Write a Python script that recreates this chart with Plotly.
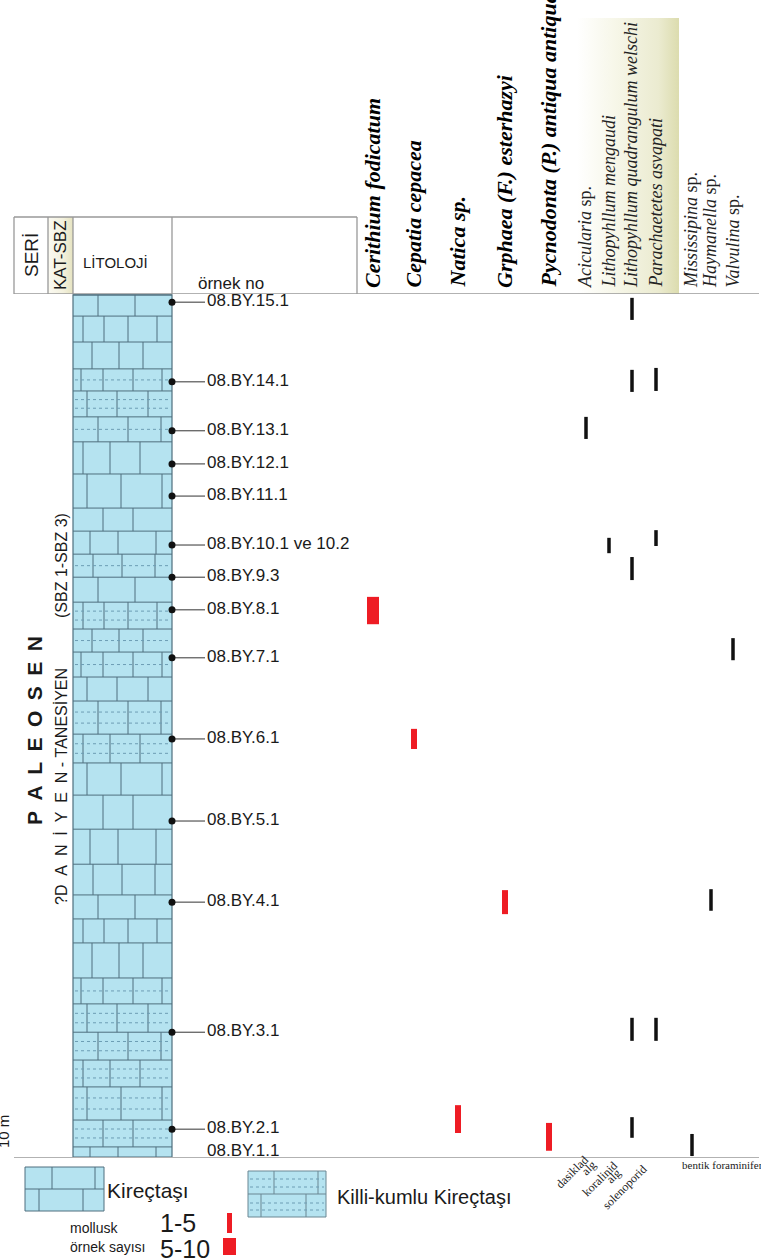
import plotly.graph_objects as go

W, H = 761, 1258

# ---------------- data ----------------
SAMPLES = ["08.BY.15.1", "08.BY.14.1", "08.BY.13.1", "08.BY.12.1", "08.BY.11.1",
           "08.BY.10.1 ve 10.2", "08.BY.9.3", "08.BY.8.1", "08.BY.7.1", "08.BY.6.1",
           "08.BY.5.1", "08.BY.4.1", "08.BY.3.1", "08.BY.2.1", "08.BY.1.1"]
SAMPLE_M = [178.1, 161.5, 151.3, 144.4, 137.7, 127.5, 120.8, 114.0, 104.0, 87.1,
            70.0, 53.1, 26.0, 5.8, 1.0]
SAMPLE_DOT = [True] * 14 + [False]

SPECIES = ["Cerithium fodicatum", "Cepatia cepacea", "Natica sp.",
           "Grphaea (F.) esterhazyi", "Pycnodonta (P.) antiqua antiqua",
           "Acicularia sp.", "Lithopyhllum mengaudi",
           "Lithopyhllum quadrangulum welschi", "Parachaetetes asvapati",
           "Mississipina sp.", "Haymanella sp.", "Valvulina sp."]
SPECIES_KIND = ["mollusk"] * 5 + ["alg"] * 4 + ["foram"] * 3

OCC_SPECIES = ["Cerithium fodicatum", "Cepatia cepacea", "Natica sp.",
               "Grphaea (F.) esterhazyi", "Pycnodonta (P.) antiqua antiqua",
               "Acicularia sp.", "Lithopyhllum mengaudi",
               "Lithopyhllum quadrangulum welschi", "Lithopyhllum quadrangulum welschi",
               "Lithopyhllum quadrangulum welschi", "Lithopyhllum quadrangulum welschi",
               "Lithopyhllum quadrangulum welschi",
               "Parachaetetes asvapati", "Parachaetetes asvapati", "Parachaetetes asvapati",
               "Mississipina sp.", "Haymanella sp.", "Valvulina sp."]
OCC_BASE_M = [111.0, 85.0, 5.0, 50.6, 1.3, 149.6, 125.8, 174.4, 159.4, 120.2, 24.2, 4.0,
              159.6, 127.3, 24.2, 0.2, 51.3, 103.5]
OCC_TOP_M = [116.7, 89.2, 10.8, 55.6, 7.1, 154.2, 129.0, 179.0, 164.0, 125.0, 29.0, 8.3,
             164.4, 130.6, 29.0, 4.8, 55.8, 108.1]
OCC_COUNT = ["5-10", "1-5", "1-5", "1-5", "1-5"] + ["var"] * 13

BED_BOUNDS_M = [179.6, 175.2, 169.8, 164.2, 159.6, 154.2, 149.0, 142.3, 135.2, 130.4,
                125.6, 120.8, 115.6, 110.0, 105.2, 100.0, 95.0, 88.1, 82.1, 75.4,
                68.3, 61.0, 54.6, 49.6, 44.6, 37.3, 31.9, 26.0, 20.2, 14.6, 7.7, 2.1, 0.0]
BED_TYPES = ("K K K KK KK KK K K K K KK K KK KK KK K KK KK K K K K K K K "
             "KK KK KK KK KK KK K").split()

SECTION_TOP_M = 179.8

# ---------------- layout constants (pixels) ----------------
COL_X = [373, 414, 458, 505, 549, 586, 609, 632, 656, 692, 711, 733]
LITHO_X0, LITHO_X1 = 73, 172
TOP_Y, BOT_Y = 294, 1157
JOINTS = [[98, 135], [83, 104, 128, 157], [92, 119, 143], [81, 103, 133, 162],
          [87, 117, 148], [98, 128, 161], [83, 110, 140], [87, 121, 162],
          [103, 133], [90, 118, 156], [93, 122, 155]]

BLUE = "#b5e3f0"
LITHO_LINE = "#4f6f7e"
RED = "#ee1c24"
FRAME = "#999999"

fig = go.Figure()


def px_line(xs, ys, color, width=1, dash=None, yaxis="y"):
    fig.add_trace(go.Scatter(x=xs, y=ys, mode="lines", yaxis=yaxis, xaxis="x",
                             line=dict(color=color, width=width, dash=dash),
                             hoverinfo="skip", cliponaxis=False))


def px_rect(x0, y0, x1, y1, fill=None, line=None, width=1, grad=None, yaxis="y"):
    kw = {}
    if grad is not None:
        kw["fillgradient"] = dict(type="horizontal", colorscale=grad)
    elif fill is not None:
        kw["fillcolor"] = fill
    fig.add_trace(go.Scatter(x=[x0, x1, x1, x0, x0], y=[y0, y0, y1, y1, y0],
                             mode="lines", fill="toself", yaxis=yaxis, xaxis="x",
                             line=dict(color=line or "rgba(0,0,0,0)", width=width if line else 0),
                             hoverinfo="skip", cliponaxis=False, **kw))


# yellow algae band (gradient)
px_rect(577, 18, 679, BOT_Y,
        grad=[[0, "rgba(255,255,255,1)"], [0.35, "#f7f7ea"], [0.8, "#ebebd0"], [1, "#dcdcae"]])
# KAT-SBZ cream column
px_rect(48, 217, 73, BOT_Y,
        grad=[[0, "#fbfaf2"], [0.6, "#f3f1de"], [1, "#e6e3c0"]])

# dotted species grid lines
gx, gy = [], []
for cx in COL_X:
    gx += [cx, cx, None]
    gy += [TOP_Y, BOT_Y, None]
px_line(gx, gy, "#cccccc", 1, "dot")

# ---------------- lithology column ----------------
px_rect(LITHO_X0, 0, LITHO_X1, BED_BOUNDS_M[0], fill=BLUE, yaxis="y2")
hx, hy, vx, vy, dx, dy = [], [], [], [], [], []
for i, t in enumerate(BED_TYPES):
    top, bot = BED_BOUNDS_M[i], BED_BOUNDS_M[i + 1]
    hx += [LITHO_X0, LITHO_X1, None]
    hy += [top, top, None]
    for jx in JOINTS[i % len(JOINTS)]:
        vx += [jx, jx, None]
        vy += [bot, top, None]
    if t == "KK":
        th = top - bot
        fracs = [1 / 3, 2 / 3] if th >= 5.4 else [0.5]
        for f in fracs:
            yy = bot + th * f
            dx += [LITHO_X0 + 2, LITHO_X1 - 2, None]
            dy += [yy, yy, None]
px_line(vx, vy, LITHO_LINE, 1, yaxis="y2")
px_line(dx, dy, "#6d9db4", 1, "dot", yaxis="y2")
px_line(hx, hy, LITHO_LINE, 1, yaxis="y2")
px_line([LITHO_X0, LITHO_X1, LITHO_X1, LITHO_X0, LITHO_X0],
        [0, 0, BED_BOUNDS_M[0], BED_BOUNDS_M[0], 0], LITHO_LINE, 1.2, yaxis="y2")

# ---------------- frames ----------------
fx = [14, 357, None, 14, 759, None, 14, 759, None,
      14, 14, None, 48, 48, None, 73, 73, None, 172, 172, None, 357, 357, None, 759, 759, None]
fy = [217, 217, None, TOP_Y, TOP_Y, None, BOT_Y, BOT_Y, None,
      217, BOT_Y, None, 217, BOT_Y, None, 217, TOP_Y, None, 217, TOP_Y, None, 217, BOT_Y, None,
      TOP_Y, BOT_Y, None]
px_line(fx, fy, FRAME, 1.3)

# scale bar 10 m
px_line([10, 10], [1109, 1157], "#222222", 1.3)

# ---------------- samples ----------------
lx, ly = [], []
for m, d in zip(SAMPLE_M, SAMPLE_DOT):
    if d:
        lx += [LITHO_X1, 205, None]
        ly += [m, m, None]
px_line(lx, ly, "#333333", 1, yaxis="y2")
fig.add_trace(go.Scatter(
    x=[LITHO_X1] * sum(SAMPLE_DOT), y=[m for m, d in zip(SAMPLE_M, SAMPLE_DOT) if d],
    mode="markers", xaxis="x", yaxis="y2", marker=dict(size=7, color="#111111"),
    hoverinfo="skip", cliponaxis=False))
fig.add_trace(go.Scatter(
    x=[207] * len(SAMPLES), y=SAMPLE_M, text=SAMPLES, mode="text",
    textposition="middle right", xaxis="x", yaxis="y2",
    textfont=dict(family="Liberation Sans, Arial", size=17, color="#1a1a1a"),
    hoverinfo="skip", cliponaxis=False))

# ---------------- occurrence bars ----------------
sp_x = {s: COL_X[i] for i, s in enumerate(SPECIES)}
groups = {"5-10": (RED, 12), "1-5": (RED, 6), "var": ("#111111", 3.5)}
for key, (col, w) in groups.items():
    idx = [i for i, c in enumerate(OCC_COUNT) if c == key]
    fig.add_trace(go.Bar(
        x=[sp_x[OCC_SPECIES[i]] for i in idx],
        y=[OCC_TOP_M[i] - OCC_BASE_M[i] for i in idx],
        base=[OCC_BASE_M[i] for i in idx],
        width=[w] * len(idx), xaxis="x", yaxis="y2",
        marker=dict(color=col, line=dict(width=0)), hoverinfo="skip"))

# ---------------- legend graphics ----------------
px_rect(25, 1167, 104, 1211, fill=BLUE, line=LITHO_LINE, width=1)
px_line([25, 104, None, 52, 52, None, 95, 95, None, 39, 39, None, 83, 83],
        [1189, 1189, None, 1167, 1189, None, 1167, 1189, None, 1189, 1211, None, 1189, 1211],
        LITHO_LINE, 1)
px_rect(248, 1171, 326, 1217, fill=BLUE, line="#6b8793", width=1)
px_line([248, 326, None, 274, 274, None, 318, 318, None, 261, 261, None, 306, 306],
        [1194, 1194, None, 1171, 1194, None, 1171, 1194, None, 1194, 1217, None, 1194, 1217],
        "#6b8793", 1)
px_line([250, 324, None, 250, 324, None, 250, 324, None, 250, 324],
        [1179, 1179, None, 1187, 1187, None, 1203, 1203, None, 1210, 1210],
        "#6d9db4", 1, "dot")
px_rect(227, 1213, 232, 1233, fill=RED)
px_rect(223, 1238, 236, 1255, fill=RED)

# ---------------- annotations ----------------
ann = []


def A(text, x, y, size, family="Liberation Sans, Arial", angle=0, xa="center", ya="middle",
      color="#1a1a1a", align="center"):
    ann.append(dict(text=text, x=x, y=y, xref="x", yref="y", showarrow=False,
                    textangle=angle, xanchor=xa, yanchor=ya, align=align,
                    font=dict(family=family, size=size, color=color)))


SERIF = "Liberation Serif, Times New Roman"
for s, k, cx in zip(SPECIES, SPECIES_KIND, COL_X):
    if k == "mollusk":
        A("<b><i>%s</i></b>" % s, cx - 1, 290, 22, SERIF, -90, ya="bottom", color="#000")
    else:
        if s.endswith(" sp."):
            txt = "<i>%s</i> sp." % s[:-4]
        else:
            txt = "<i>%s</i>" % s
        A(txt, cx - 1, 290, 18, SERIF, -90, ya="bottom", color="#222")

A("SERİ", 31, 255, 19, angle=-90)
A("KAT-SBZ", 60, 255, 17, angle=-90)
A("LİTOLOJİ", 115, 262, 15)
A("örnek no", 231, 283, 17)
A("<b>P\u2002A\u2002L\u2002E\u2002O\u2002S\u2002E\u2002N</b>", 34, 731, 21, angle=-90)
A("?D\u00a0\u00a0A\u00a0\u00a0N\u00a0\u00a0İ\u00a0\u00a0Y\u00a0\u00a0E\u00a0\u00a0N\u00a0-\u00a0TANESİYEN",
  61, 787, 16, angle=-90)
A("(SBZ 1-SBZ 3)", 61, 566, 16, angle=-90)
A("10 m", 3, 1132, 15, angle=-90)

A("dasiklad", 572, 1172, 12, SERIF, -45)
A("alg<br>koralinid", 594, 1174, 12, SERIF, -45)
A("alg<br>solenoporid", 619, 1182, 12, SERIF, -45)
A("bentik foraminifer", 722, 1165, 11, SERIF)

A("Kireçtaşı", 105, 1190, 21, xa="left")
A("Killi-kumlu Kireçtaşı", 335, 1197, 20, xa="left")
A("mollusk", 68, 1228, 14, xa="left")
A("örnek sayısı", 68, 1247, 14, xa="left")
A("1-5", 158, 1223, 25, xa="left")
A("5-10", 158, 1249, 25, xa="left")

fig.update_layout(
    width=W, height=H, margin=dict(l=0, r=0, t=0, b=0),
    paper_bgcolor="white", plot_bgcolor="white", showlegend=False,
    barmode="overlay", annotations=ann,
    xaxis=dict(range=[0, W], domain=[0, 1], visible=False, fixedrange=True),
    yaxis=dict(range=[H, 0], domain=[0, 1], visible=False, fixedrange=True),
    yaxis2=dict(range=[0, SECTION_TOP_M], domain=[(H - BOT_Y) / H, (H - TOP_Y) / H],
                visible=False, anchor="x", fixedrange=True),
)

fig.write_html("out.html", config={"displayModeBar": False},
               post_script="document.body.style.margin='0';document.body.style.padding='0';"
                           "document.body.style.overflow='hidden';")
